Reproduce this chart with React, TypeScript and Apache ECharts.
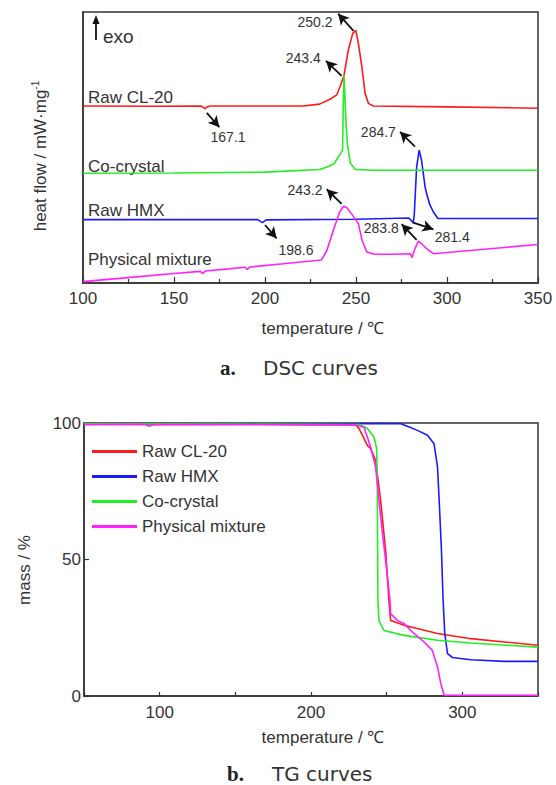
import React, { useEffect, useRef } from "react";
import * as echarts from "echarts";

// ---------- DSC (top) data: [temperature °C, heat flow (relative units, offset)] ----------
const dscRawCL20: number[][] = [
  [100, 65.3], [140, 65.2], [165, 65.3], [166.4, 64.6], [167.1, 64.3], [168.2, 65.0], [170, 65.3],
  [200, 65.3], [221, 65.3], [230, 66.0], [235.7, 67.8], [239.4, 69.4], [241.2, 72.4], [243.4, 76.6],
  [245.8, 86.0], [248.2, 92.1], [249.9, 93.2], [251.3, 88.4], [253.2, 79.8], [255, 70.0],
  [256.8, 66.3], [259.5, 65.3], [300, 65.0], [350, 64.5],
];
const dscCoCrystal: number[][] = [
  [100, 40.5], [150, 40.6], [200, 40.9], [230, 41.9], [235, 43.0], [238.1, 44.2], [241, 47.2],
  [242.6, 49.0], [243.0, 65.0], [243.4, 76.6], [243.9, 69.0], [244.6, 58.0], [245.3, 51.0],
  [246.9, 44.2], [249.6, 41.9], [260, 41.6], [350, 41.6],
];
const dscRawHMX: number[][] = [
  [100, 23.4], [150, 23.4], [196, 23.4], [198.6, 22.3], [200.6, 23.3], [250, 23.5], [278.8, 24.0],
  [280.5, 23.0], [281.4, 22.1], [282.0, 25.0], [282.4, 30.5], [283.3, 42.7], [284.7, 49.0],
  [286, 45.3], [288, 35.3], [288.8, 33.0], [290.5, 29.0], [292.5, 26.2], [295, 23.8], [350, 23.8],
];
const dscPhysMix: number[][] = [
  [100, 0.5], [120, 1.7], [150, 3.5], [164.5, 4.3], [165.8, 3.5], [167.2, 4.4], [180, 5.2],
  [189, 5.8], [190.2, 5.0], [191.6, 5.9], [210, 7.1], [231, 8.5], [234, 12.0], [237.5, 19.4],
  [241, 26.2], [243.2, 28.3], [245, 27.8], [247.5, 25.6], [251.3, 21.9], [253.3, 15.8],
  [256, 11.4], [260, 10.6], [270, 10.6], [279.7, 10.8], [280.8, 9.4], [282, 12.0],
  [284.2, 15.4], [286, 14.5], [288.8, 12.7], [292.5, 10.8], [350, 14.2],
];

// ---------- TG (bottom) data: [temperature °C, mass %] ----------
const tgRawCL20: number[][] = [
  [50, 99.6], [100, 99.5], [150, 99.6], [200, 99.4], [229.5, 99.3], [231.7, 98.0], [234, 95.5],
  [237.2, 91.8], [239.4, 90.6], [242.7, 86.3], [246, 71.7], [249.3, 53.4], [251.5, 35.0],
  [252.6, 27.7], [256, 27.0], [261.5, 25.9], [283.6, 22.9], [305.6, 21.0], [327.7, 19.8], [349.8, 18.6],
];
const tgRawHMX: number[][] = [
  [50, 99.7], [150, 99.6], [250, 99.8], [259.3, 99.7], [263.7, 98.8], [270.3, 97.3], [277, 95.5],
  [281.3, 92.4], [283.6, 83.9], [284.7, 71.7], [286.2, 53.4], [287.3, 35.0], [288.4, 22.9],
  [290.2, 15.5], [293.5, 14.1], [305.6, 13.3], [327.7, 12.7], [350, 12.7],
];
const tgCoCrystal: number[][] = [
  [50, 99.7], [150, 99.6], [232.5, 99.4], [237.2, 98.0], [241.6, 94.9], [243.4, 90.6],
  [243.8, 77.8], [244.2, 35.0], [244.9, 27.7], [248.2, 24.0], [261.5, 22.2], [283.6, 20.4],
  [305.6, 19.4], [350, 17.9],
];
const tgPhysMix: number[][] = [
  [50, 99.4], [90, 99.5], [93, 98.8], [96, 99.4], [229.5, 99.3], [235, 98.5], [239.4, 91.2],
  [242.7, 83.9], [246, 65.6], [249.3, 49.7], [252.2, 35.0], [252.6, 30.2], [257, 27.7],
  [261.5, 26.5], [268, 22.9], [274.7, 19.8], [280.2, 16.7], [283.6, 10.6], [285.8, 4.5],
  [288, 0.3], [350, 0.3],
];

const seriesNames = ["Raw CL-20", "Raw HMX", "Co-crystal", "Physical mixture"];
const colors = ["#ff1a1a", "#1a1aff", "#22ee22", "#ff22ff"];

// DSC peak annotations: label, text position [T, v], arrow from [T, v] to [T, v]
const dscLabels: { text: string; at: number[]; from: number[]; to: number[] }[] = [
  { text: "250.2", at: [227.5, 96.3], from: [248.6, 93.0], to: [240.2, 99.4] },
  { text: "243.4", at: [221, 83], from: [242.1, 76.4], to: [233.5, 82.0] },
  { text: "167.1", at: [179.7, 53.9], from: [168.0, 62.8], to: [174.9, 57.5] },
  { text: "284.7", at: [262.3, 55.8], from: [282.4, 50.3], to: [274.2, 55.8] },
  { text: "198.6", at: [217, 12.2], from: [200, 21.4], to: [206.4, 16.5] },
  { text: "243.2", at: [222, 34.3], from: [242.1, 29.2], to: [233.9, 34.6] },
  { text: "283.8", at: [263.9, 20.2], from: [283.3, 15.9], to: [275.1, 21.7] },
  { text: "281.4", at: [302.9, 16.9], from: [281.5, 22.3], to: [292.5, 19.8] },
];

const curveLabels = [
  { text: "Raw CL-20", x: 88, y: 97 },
  { text: "Co-crystal", x: 88, y: 166 },
  { text: "Raw HMX", x: 88, y: 210 },
  { text: "Physical mixture", x: 88, y: 259 },
];

const FONT = "Liberation Sans, Arial, sans-serif";
const TXT = "#333";

export default function App() {
  const ref = useRef<HTMLDivElement>(null);

  useEffect(() => {
    if (!ref.current) return;
    const chart = echarts.init(ref.current, undefined, { renderer: "svg" });

    const axisTickBase = { inside: true, lineStyle: { color: TXT, width: 1.2 } };

    const dscData = [dscRawCL20, dscRawHMX, dscCoCrystal, dscPhysMix];
    const tgData = [tgRawCL20, tgRawHMX, tgCoCrystal, tgPhysMix];

    const series: any[] = [];
    dscData.forEach((d, i) => {
      series.push({
        type: "line",
        name: "dsc-" + seriesNames[i],
        xAxisIndex: 0,
        yAxisIndex: 0,
        data: d,
        showSymbol: false,
        symbol: "none",
        lineStyle: { color: colors[i], width: 1.6 },
        itemStyle: { color: colors[i] },
        z: 3,
      });
    });
    // annotation arrows + texts (DSC)
    series.push({
      type: "line",
      name: "dsc-annot",
      xAxisIndex: 0,
      yAxisIndex: 0,
      data: [],
      symbol: "none",
      markLine: {
        silent: true,
        symbol: ["none", "arrow"],
        symbolSize: [9, 11],
        label: { show: false },
        lineStyle: { color: "#111", width: 1.8, type: "solid" },
        data: dscLabels.map((a) => [{ coord: a.from }, { coord: a.to }]),
      },
      markPoint: {
        silent: true,
        symbol: "circle",
        symbolSize: 0,
        label: {
          show: true,
          position: "inside",
          color: TXT,
          fontSize: 14,
          fontFamily: FONT,
          formatter: (p: any) => p.name,
        },
        data: dscLabels.map((a) => ({ name: a.text, coord: a.at, value: 0 })),
      },
    });
    tgData.forEach((d, i) => {
      series.push({
        type: "line",
        name: seriesNames[i],
        xAxisIndex: 1,
        yAxisIndex: 1,
        data: d,
        showSymbol: false,
        symbol: "none",
        lineStyle: { color: colors[i], width: 1.6 },
        itemStyle: { color: colors[i] },
        z: 3,
      });
    });

    const graphics: any[] = [];
    curveLabels.forEach((c) => {
      graphics.push({
        type: "text",
        x: c.x,
        y: c.y,
        style: { text: c.text, fill: TXT, font: `17px ${FONT}`, textAlign: "left", textVerticalAlign: "middle" },
      });
    });
    // exo arrow
    graphics.push({
      type: "line",
      shape: { x1: 96, y1: 40, x2: 96, y2: 22 },
      style: { stroke: "#111", lineWidth: 1.8 },
    });
    graphics.push({
      type: "polygon",
      shape: { points: [[92.5, 24], [96, 15], [99.5, 24]] },
      style: { fill: "#111" },
    });
    graphics.push({
      type: "text",
      x: 103,
      y: 36,
      style: { text: "exo", fill: TXT, font: `19px ${FONT}`, textAlign: "left", textVerticalAlign: "middle" },
    });
    // axis titles
    graphics.push({
      type: "text",
      x: 40,
      y: 156,
      rotation: Math.PI / 2,
      style: {
        text: "{a|heat flow / mW·mg}{s|-1}",
        rich: {
          a: { fontSize: 17, fontFamily: FONT, fill: TXT, color: TXT, lineHeight: 20 },
          s: { fontSize: 10, fontFamily: FONT, fill: TXT, color: TXT, verticalAlign: "top", lineHeight: 20 },
        },
        textAlign: "center",
        textVerticalAlign: "middle",
      },
    });
    graphics.push({
      type: "text",
      x: 323,
      y: 328,
      style: { text: "temperature / ℃", fill: TXT, font: `17px ${FONT}`, textAlign: "center", textVerticalAlign: "middle" },
    });
    graphics.push({
      type: "text",
      x: 24,
      y: 570,
      rotation: Math.PI / 2,
      style: { text: "mass / %", fill: TXT, font: `17px ${FONT}`, textAlign: "center", textVerticalAlign: "middle" },
    });
    graphics.push({
      type: "text",
      x: 323,
      y: 737,
      style: { text: "temperature / ℃", fill: TXT, font: `17px ${FONT}`, textAlign: "center", textVerticalAlign: "middle" },
    });
    // captions
    graphics.push({
      type: "text",
      x: 220,
      y: 368,
      style: { text: "a.", fill: "#222", font: `bold 21px Liberation Serif, serif`, textAlign: "left", textVerticalAlign: "middle" },
    });
    graphics.push({
      type: "text",
      x: 263,
      y: 368,
      style: { text: "DSC curves", fill: "#333", font: `20px DejaVu Sans, sans-serif`, textAlign: "left", textVerticalAlign: "middle" },
    });
    graphics.push({
      type: "text",
      x: 227,
      y: 774,
      style: { text: "b.", fill: "#222", font: `bold 21px Liberation Serif, serif`, textAlign: "left", textVerticalAlign: "middle" },
    });
    graphics.push({
      type: "text",
      x: 272,
      y: 774,
      style: { text: "TG curves", fill: "#333", font: `20px DejaVu Sans, sans-serif`, textAlign: "left", textVerticalAlign: "middle" },
    });

    chart.setOption({
      animation: false,
      backgroundColor: "#ffffff",
      grid: [
        { left: 83, top: 12, width: 455, height: 271, show: true, borderColor: TXT, borderWidth: 1.5, backgroundColor: "transparent" },
        { left: 84, top: 423, width: 454, height: 273, show: true, borderColor: TXT, borderWidth: 1.5, backgroundColor: "transparent" },
      ],
      xAxis: [
        {
          gridIndex: 0,
          type: "value",
          min: 100,
          max: 350,
          interval: 50,
          axisLine: { show: true, lineStyle: { color: TXT, width: 1.5 } },
          axisTick: { ...axisTickBase, length: 6 },
          minorTick: { show: true, splitNumber: 2, length: 4, lineStyle: { color: TXT, width: 1.2 } },
          splitLine: { show: false },
          axisLabel: { fontSize: 17, color: TXT, fontFamily: FONT, margin: 7 },
        },
        {
          gridIndex: 1,
          type: "value",
          min: 50,
          max: 350,
          interval: 50,
          axisLine: { show: true, lineStyle: { color: TXT, width: 1.5 } },
          axisTick: { ...axisTickBase, length: 4 },
          splitLine: { show: false },
          axisLabel: {
            fontSize: 17,
            color: TXT,
            fontFamily: FONT,
            margin: 8,
            formatter: (v: number) => (v % 100 === 0 && v > 50 && v < 350 ? String(v) : ""),
          },
        },
      ],
      yAxis: [
        {
          gridIndex: 0,
          type: "value",
          min: 0,
          max: 100,
          axisLine: { show: true, lineStyle: { color: TXT, width: 1.5 } },
          axisTick: { show: false },
          axisLabel: { show: false },
          splitLine: { show: false },
        },
        {
          gridIndex: 1,
          type: "value",
          min: 0,
          max: 100,
          interval: 50,
          axisLine: { show: true, lineStyle: { color: TXT, width: 1.5 } },
          axisTick: { ...axisTickBase, length: 5 },
          axisLabel: { fontSize: 17, color: TXT, fontFamily: FONT, margin: 3 },
          splitLine: { show: false },
        },
      ],
      legend: {
        data: seriesNames,
        orient: "vertical",
        left: 92,
        top: 443,
        padding: 0,
        itemWidth: 45,
        itemHeight: 3,
        itemGap: 8,
        icon: "rect",
        backgroundColor: "#ffffff",
        textStyle: { fontSize: 17, color: TXT, fontFamily: FONT, padding: [0, 0, 0, 0] },
      },
      series,
      graphic: graphics,
    });

    return () => chart.dispose();
  }, []);

  return (
    <div
      ref={ref}
      style={{ position: "fixed", left: 0, top: 0, width: 556, height: 785, background: "#fff" }}
    />
  );
}
